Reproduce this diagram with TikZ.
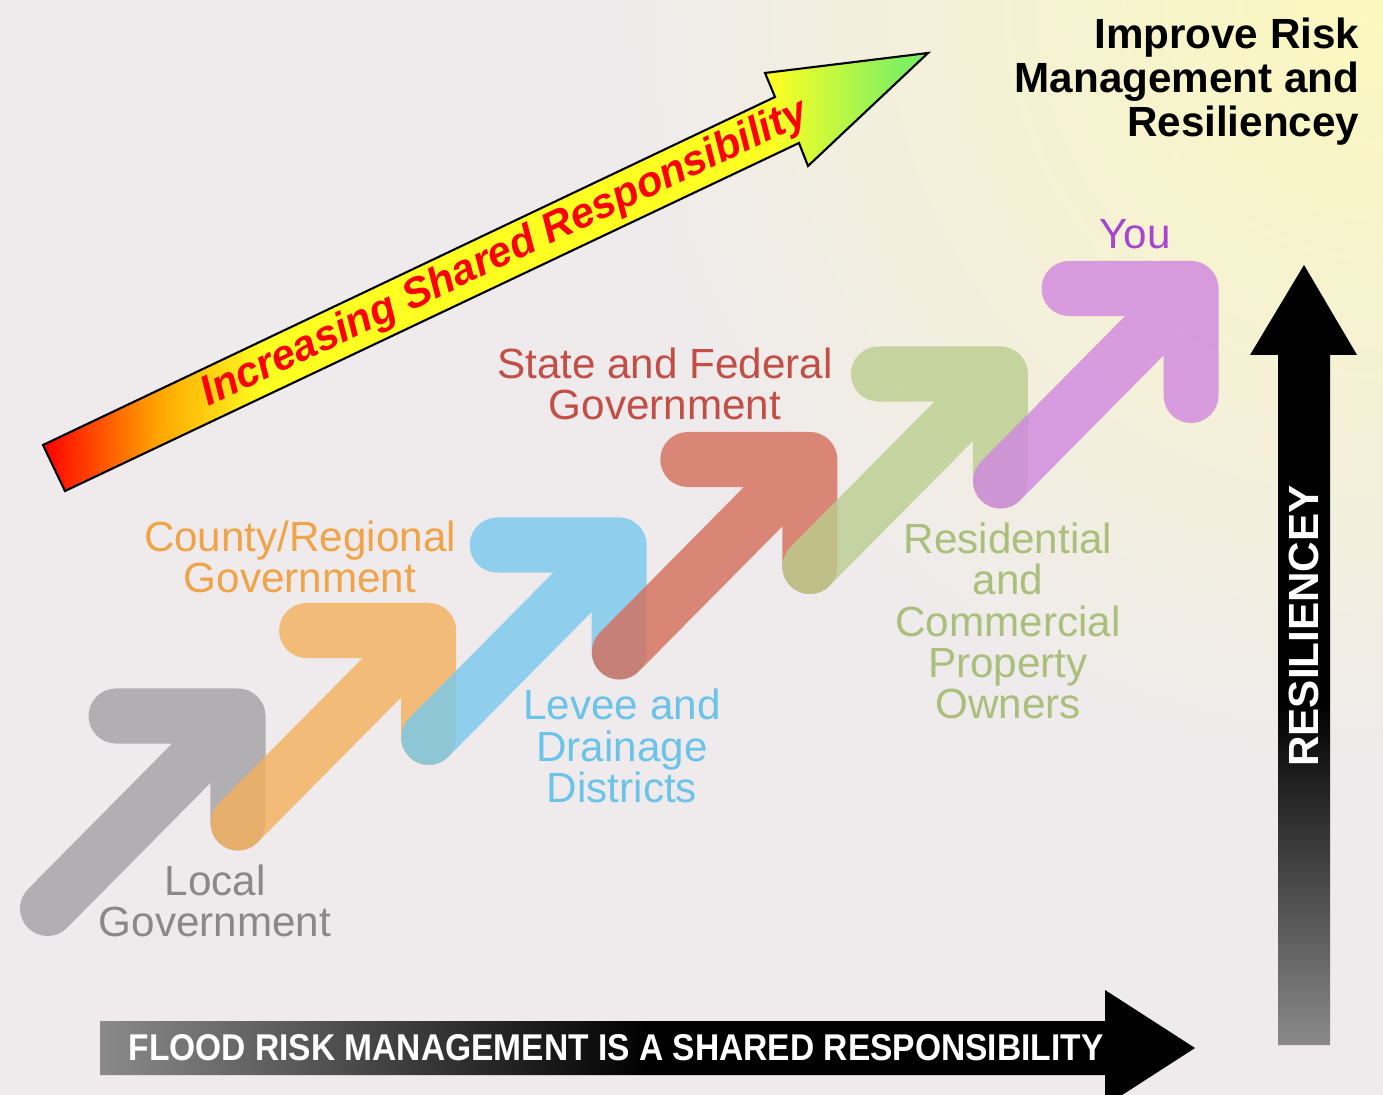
\documentclass[tikz,border=0pt]{standalone}
\usepackage{fontspec}
\setmainfont{Liberation Sans}
\usepackage{xcolor}
\definecolor{frbg}{HTML}{EFEBEC}
\definecolor{frglow}{HTML}{FBF8BE}
\definecolor{frgray}{HTML}{A3A1A4}
\definecolor{frorange}{HTML}{F4AF5B}
\definecolor{frblue}{HTML}{77C9EE}
\definecolor{frred}{HTML}{D56D5A}
\definecolor{frgreen}{HTML}{BACE8F}
\definecolor{frpurple}{HTML}{D086E0}
\definecolor{frtgray}{HTML}{8A888A}
\definecolor{frtorange}{HTML}{F0A348}
\definecolor{frtblue}{HTML}{6CC3EA}
\definecolor{frtred}{HTML}{C24E45}
\definecolor{frtgreen}{HTML}{A9BF7B}
\definecolor{frtpurple}{HTML}{A744D0}
\definecolor{frhot}{HTML}{FF0000}
\definecolor{frwarm}{HTML}{FFA500}
\definecolor{frsun}{HTML}{FFFF22}
\definecolor{frlime}{HTML}{80F060}
\definecolor{frdarklo}{HTML}{8A8A8A}
\usepackage{tikz}
\usetikzlibrary{positioning}
% stops sit between 25bp and 75bp, the part of the shading that covers the path
\pgfdeclarehorizontalshading{frsharedshade}{100bp}{color(0bp)=(frhot); color(25bp)=(frhot);
  color(31.5bp)=(frwarm); color(37.5bp)=(frsun); color(66bp)=(frsun); color(73.5bp)=(frlime);
  color(100bp)=(frlime)}
\pgfdeclarehorizontalshading{frbandshade}{100bp}{color(0bp)=(frdarklo); color(25bp)=(frdarklo);
  color(50bp)=(black); color(100bp)=(black)}
\pgfdeclareverticalshading{frriseshade}{100bp}{color(0bp)=(frdarklo); color(25bp)=(frdarklo);
  color(47bp)=(black); color(100bp)=(black)}
\tikzset{
  frstep/.style ={line width=0.55cm, line cap=round, line join=round, draw opacity=0.8},
  frlbl/.style  ={font=\fontsize{12}{11.7}\selectfont, align=center, inner sep=0pt},
  frgoal/.style ={font=\fontsize{12}{12.5}\selectfont\bfseries, align=right, inner sep=0pt},
  frband/.style ={font=\fontsize{10.6}{12}\selectfont\bfseries, text=white, inner sep=0pt},
  frslant/.style={font=\fontsize{12}{12}\selectfont\bfseries\itshape, text=frhot, inner sep=0pt},
}
\newcommand{\frarrow}[2]{%
  \begin{scope}[shift={#1}]
    \draw[frstep, draw=#2] (-122,0) -- (0,0) -- (0,107) (-190.5,192.5) -- (0,0);
  \end{scope}}

\begin{document}
\begin{tikzpicture}[x=0.01cm, y=-0.01cm]
  \useasboundingbox (0,0) rectangle (1383,1095);
  \clip (0,0) rectangle (1383,1095);
  \fill[frbg] (0,0) rectangle (1383,1095);
  \shade[inner color=frglow, outer color=frbg] (1383,0) circle (760);
  % rising steps
  \foreach \i/\col in {0/frgray,1/frorange,2/frblue,3/frred,4/frgreen,5/frpurple}{
    \frarrow{(238+190.6*\i, 716-85.5*\i)}{\col}
  }
  \node[frlbl, text=frtgray]   (lblLocal)  at (215,901)  {Local\\Government};
  \node[frlbl, text=frtorange] (lblCounty) at (300,557)  {County/Regional\\Government};
  \node[frlbl, text=frtblue]   (lblLevee)  at (622,746)  {Levee and\\Drainage\\Districts};
  \node[frlbl, text=frtred]    (lblState)  at (665,384)  {State and Federal\\Government};
  \node[frlbl, text=frtgreen]  (lblRes)    at (1008,621) {Residential\\and\\Commercial\\Property\\Owners};
  \node[frlbl, text=frtpurple] (lblYou)    at (1135,234) {You};
  % shared responsibility arrow
  \shade[shading=frsharedshade, draw=black, line width=0.6pt]
    (43,445) -- (775,97) -- (765,73) -- (928,53) -- (808,166) -- (799,143) -- (65,491) -- cycle;
  \node[frslant, rotate=25.4] (sharedtxt) at (505,254) {Increasing Shared Responsibility};
  \node[frgoal, anchor=east] (goal) at (1360,82) {Improve Risk\\Management and\\Resiliencey};
  % axes
  \shade[shading=frbandshade]
    (100,1021) -- (1105,1021) -- (1105,990) -- (1195,1048) -- (1105,1106) -- (1105,1075)
    -- (100,1075) -- cycle;
  \node[frband, xscale=0.9] (bandtxt) at (616,1048)
    {FLOOD RISK MANAGEMENT IS A SHARED RESPONSIBILITY};
  \shade[shading=frriseshade]
    (1278,1045) -- (1278,355) -- (1250,355) -- (1304,265) -- (1357,355) -- (1330,355)
    -- (1330,1045) -- cycle;
  \node[frband, font=\fontsize{12}{12}\selectfont\bfseries, rotate=90] (risetxt) at (1304,626)
    {RESILIENCEY};
\end{tikzpicture}
\end{document}
